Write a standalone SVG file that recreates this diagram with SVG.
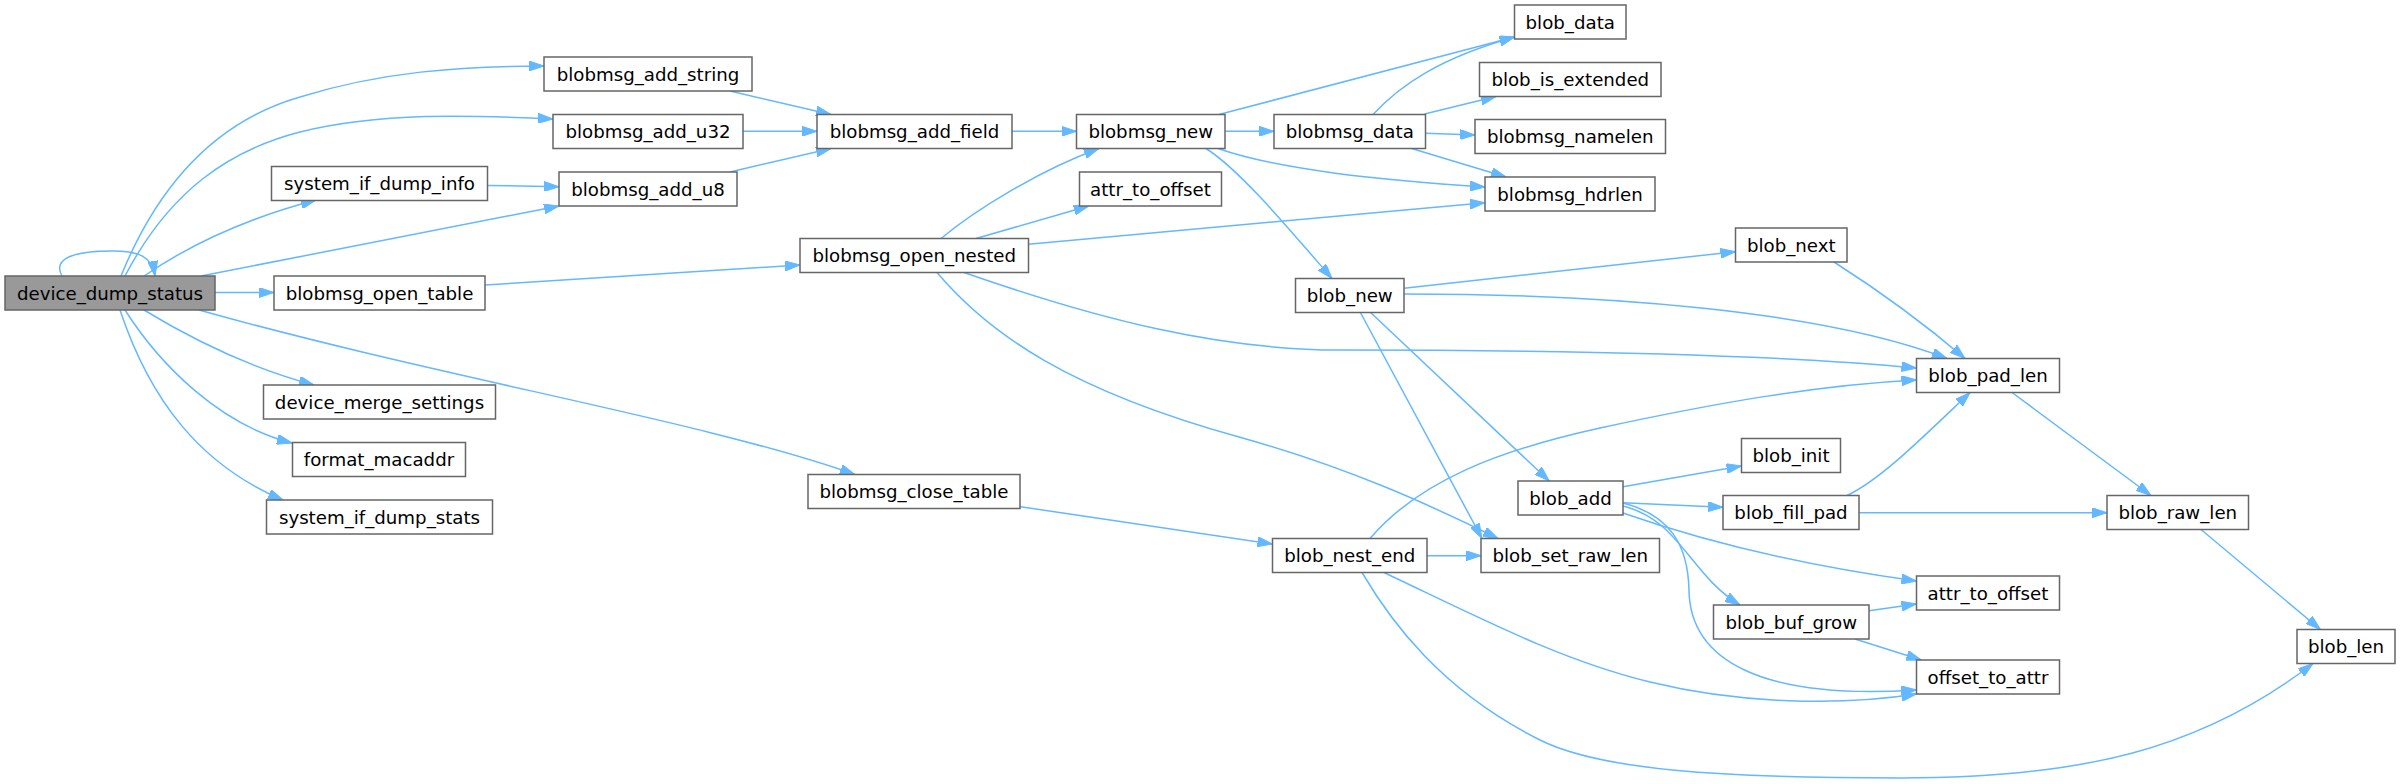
<svg xmlns="http://www.w3.org/2000/svg" width="2400" height="784" viewBox="0 0 2400 784">
<style>
.node rect{fill:#ffffff;stroke:#666666;stroke-width:1.5}
.node.start rect{fill:#999999}
.node text{font-family:"DejaVu Sans","Liberation Sans",sans-serif;font-size:18.2px;text-anchor:middle;fill:#000000}
.edges path{fill:none;stroke:#63b8ff;stroke-width:1.5;marker-end:url(#arr)}
</style>
<defs>
<marker id="arr" viewBox="0 0 15 10" refX="15" refY="5" markerWidth="15" markerHeight="10" markerUnits="userSpaceOnUse" orient="auto">
<path d="M0,0 L15,5 L0,10 z" fill="#63b8ff" stroke="#63b8ff" stroke-width="1"/>
</marker>
</defs>
<rect width="2400" height="784" fill="#ffffff"/>
<g class="edges">
<path d="M62,276 C52,258 75,251 112,251 C140,251 152,257 155,276"/>
<path d="M121,276 C160,180 220,120 300,97 C380,72 460,66 544,66"/>
<path d="M125,276 C170,190 230,150 300,132 C380,112 470,115 553,119"/>
<path d="M144,276 C185,248 240,220 316,200"/>
<path d="M201,276 L559,206"/>
<path d="M215,292.5 L274,292.5"/>
<path d="M144,310 C190,338 250,368 314,385"/>
<path d="M125,310 C160,365 220,425 292,443"/>
<path d="M120,310 C150,400 200,465 283,500"/>
<path d="M199,310 C450,380 700,420 855,474.5"/>
<path d="M488,185.5 L559,186.7"/>
<path d="M730,91 L831,114.5"/>
<path d="M743,131.3 L817,131.3"/>
<path d="M730,172 L831,148.5"/>
<path d="M485,285 L800,265"/>
<path d="M1012,131.3 L1076.5,131.3"/>
<path d="M1225,131.3 L1274,131.3"/>
<path d="M1219,114.5 L1514.5,37"/>
<path d="M1373,114.5 C1400,85 1440,58 1514.5,37"/>
<path d="M1424.5,114 L1496,96.5"/>
<path d="M1425.5,133.3 L1475,135"/>
<path d="M1411.7,148.5 L1506,177"/>
<path d="M1218,148.5 C1280,170 1380,180 1485,187"/>
<path d="M1206,148.5 C1240,170 1290,230 1332,278.5"/>
<path d="M941,238.5 C975,210 1040,170 1099,148.5"/>
<path d="M976,238.5 L1088.7,206"/>
<path d="M1028.5,244.3 L1485,202.7"/>
<path d="M964,272.5 C1100,320 1220,350 1340,350 C1560,350 1780,355 1916.5,368"/>
<path d="M937,272.5 C990,335 1070,390 1239,437 C1350,468 1430,505 1498,538.5"/>
<path d="M1404,288.3 L1735.5,251.7"/>
<path d="M1404,294 C1600,294 1820,310 1947,358.5"/>
<path d="M1834,262 C1870,285 1920,320 1965,358.5"/>
<path d="M1370.6,312.5 L1549.2,481"/>
<path d="M1360.4,312.5 L1482,538.5"/>
<path d="M1623,486.7 L1741.5,466"/>
<path d="M1623,502.7 L1723,507.3"/>
<path d="M1623,513 C1700,540 1800,565 1916.5,581"/>
<path d="M1623,506 C1680,520 1690,575 1740,605"/>
<path d="M1623,503 C1670,515 1688,545 1689,590 C1690,660 1760,700 1916.5,690"/>
<path d="M1847,495.5 C1880,480 1920,440 1970,392.5"/>
<path d="M1859,512.7 L2107,512.7"/>
<path d="M2012,392.5 L2151,495.5"/>
<path d="M2201,529.5 L2320.4,629.5"/>
<path d="M1869,610.7 L1916.5,604"/>
<path d="M1855,639 L1921.4,660"/>
<path d="M1020.3,506.7 L1272.5,544"/>
<path d="M1427,555.7 L1481,555.7"/>
<path d="M1370,538.5 C1420,480 1500,450 1600,428 C1720,402 1820,385 1916.5,380"/>
<path d="M1384,572.5 C1480,618 1560,660 1650,682 C1740,704 1840,706 1916.5,694"/>
<path d="M1362,572.5 C1390,620 1440,690 1540,740 C1600,770 1720,778 1900,778 C2080,778 2200,750 2313,663.5"/>
</g>
<g id="device_dump_status" class="node start"><rect x="5" y="276" width="210" height="34"/><text x="110" y="299.5">device_dump_status</text></g>
<g id="blobmsg_add_string" class="node"><rect x="544" y="57" width="208" height="34"/><text x="648" y="80.5">blobmsg_add_string</text></g>
<g id="blobmsg_add_u32" class="node"><rect x="553" y="114.5" width="190" height="34"/><text x="648" y="138">blobmsg_add_u32</text></g>
<g id="system_if_dump_info" class="node"><rect x="271.5" y="166.5" width="216" height="34"/><text x="379.5" y="190">system_if_dump_info</text></g>
<g id="blobmsg_add_u8" class="node"><rect x="559" y="172" width="178" height="34"/><text x="648" y="195.5">blobmsg_add_u8</text></g>
<g id="blobmsg_open_table" class="node"><rect x="274" y="276" width="211" height="34"/><text x="379.5" y="299.5">blobmsg_open_table</text></g>
<g id="device_merge_settings" class="node"><rect x="263.5" y="385" width="232" height="34"/><text x="379.5" y="408.5">device_merge_settings</text></g>
<g id="format_macaddr" class="node"><rect x="292.5" y="442.5" width="173" height="34"/><text x="379" y="466">format_macaddr</text></g>
<g id="system_if_dump_stats" class="node"><rect x="266.5" y="500" width="226" height="34"/><text x="379.5" y="523.5">system_if_dump_stats</text></g>
<g id="blobmsg_add_field" class="node"><rect x="817" y="114.5" width="195" height="34"/><text x="914.5" y="138">blobmsg_add_field</text></g>
<g id="blobmsg_new" class="node"><rect x="1076.5" y="114.5" width="148.5" height="34"/><text x="1150.75" y="138">blobmsg_new</text></g>
<g id="blobmsg_data" class="node"><rect x="1274" y="114.5" width="151.5" height="34"/><text x="1349.75" y="138">blobmsg_data</text></g>
<g id="attr_to_offset_1" class="node"><rect x="1079.5" y="172" width="142" height="34"/><text x="1150.5" y="195.5">attr_to_offset</text></g>
<g id="blobmsg_open_nested" class="node"><rect x="800" y="238.5" width="228.5" height="34"/><text x="914.25" y="262">blobmsg_open_nested</text></g>
<g id="blob_new" class="node"><rect x="1295.5" y="278.5" width="108.5" height="34"/><text x="1349.75" y="302">blob_new</text></g>
<g id="blob_data" class="node"><rect x="1514.5" y="5" width="111.5" height="34"/><text x="1570.25" y="28.5">blob_data</text></g>
<g id="blob_is_extended" class="node"><rect x="1479.5" y="62.5" width="181.5" height="34"/><text x="1570.25" y="86">blob_is_extended</text></g>
<g id="blobmsg_namelen" class="node"><rect x="1475" y="119.5" width="190.5" height="34"/><text x="1570.25" y="143">blobmsg_namelen</text></g>
<g id="blobmsg_hdrlen" class="node"><rect x="1485" y="177" width="170" height="34"/><text x="1570" y="200.5">blobmsg_hdrlen</text></g>
<g id="blob_next" class="node"><rect x="1735.5" y="228" width="111.5" height="34"/><text x="1791.25" y="251.5">blob_next</text></g>
<g id="blob_pad_len" class="node"><rect x="1916.5" y="358.5" width="143" height="34"/><text x="1988" y="382">blob_pad_len</text></g>
<g id="blobmsg_close_table" class="node"><rect x="808" y="474.5" width="212" height="34"/><text x="914" y="498">blobmsg_close_table</text></g>
<g id="blob_nest_end" class="node"><rect x="1272.5" y="538.5" width="154.5" height="34"/><text x="1349.75" y="562">blob_nest_end</text></g>
<g id="blob_set_raw_len" class="node"><rect x="1481" y="538.5" width="178.5" height="34"/><text x="1570.25" y="562">blob_set_raw_len</text></g>
<g id="blob_add" class="node"><rect x="1518" y="481" width="105" height="34"/><text x="1570.5" y="504.5">blob_add</text></g>
<g id="blob_init" class="node"><rect x="1741.5" y="438.5" width="99" height="34"/><text x="1791" y="462">blob_init</text></g>
<g id="blob_fill_pad" class="node"><rect x="1723" y="495.5" width="136" height="34"/><text x="1791" y="519">blob_fill_pad</text></g>
<g id="blob_raw_len" class="node"><rect x="2107" y="495.5" width="141.5" height="34"/><text x="2177.75" y="519">blob_raw_len</text></g>
<g id="attr_to_offset_2" class="node"><rect x="1916.5" y="576" width="143" height="34"/><text x="1988" y="599.5">attr_to_offset</text></g>
<g id="blob_buf_grow" class="node"><rect x="1713.5" y="605" width="155.5" height="34"/><text x="1791.25" y="628.5">blob_buf_grow</text></g>
<g id="offset_to_attr" class="node"><rect x="1916.5" y="660" width="143" height="34"/><text x="1988" y="683.5">offset_to_attr</text></g>
<g id="blob_len" class="node"><rect x="2297" y="629.5" width="98" height="34"/><text x="2346" y="653">blob_len</text></g>
</svg>
